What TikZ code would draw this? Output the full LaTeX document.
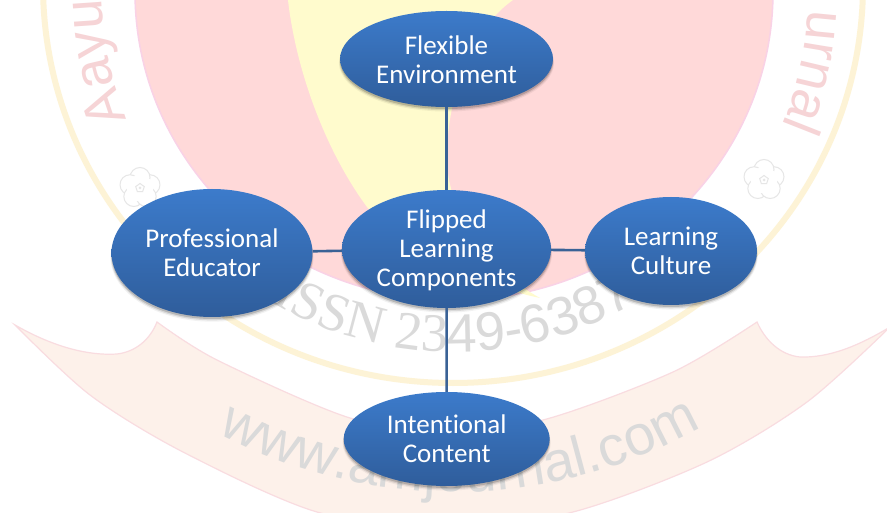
\documentclass[tikz,border=0pt]{standalone}
\usepackage{fontspec}
\setmainfont[Ligatures=NoCommon]{Carlito}
\newfontfamily\wmsans{Liberation Sans}
\newfontfamily\wmserif{Liberation Serif}
\usetikzlibrary{shapes.geometric,shadows,decorations.text}
\definecolor{pinkfill}{HTML}{FFD9D9}
\definecolor{lilacedge}{HTML}{F9D2E6}
\definecolor{creamfill}{HTML}{FFFBCD}
\definecolor{ringcol}{HTML}{FDF3D6}
\definecolor{ribbonfill}{HTML}{FDF1EA}
\definecolor{ribbonedge}{HTML}{F9DCE0}
\definecolor{wmpink}{HTML}{F6D4D6}
\definecolor{wmgrey}{HTML}{DADADA}
\definecolor{flowergrey}{HTML}{E6E6E6}
\definecolor{balltop}{HTML}{3C7BCB}
\definecolor{ballbottom}{HTML}{2F5D9B}
\definecolor{linkcol}{HTML}{3A6296}
\tikzset{
  ball/.style={ellipse,inner sep=-8pt,text=white,align=center,
    top color=balltop,bottom color=ballbottom,
    font=\fontsize{27}{29}\selectfont,
    general shadow={fill=black,opacity=.05,shadow yshift=-4pt,shadow scale=1.01},
    general shadow={fill=black,opacity=.10,shadow yshift=-3pt,shadow scale=1.005},
    general shadow={fill=black,opacity=.16,shadow yshift=-2pt,shadow scale=1.0}},
  link/.style={draw=linkcol,line width=2.6pt},
  petal/.style={fill=white,draw=flowergrey,line width=1pt},
}
\newcommand{\rosette}[2]{%
  \begin{scope}[shift={(#1,#2)}]
    \foreach \a in {18,90,162,234,306}{\path[petal] (\a:10.5) circle[radius=10];}
    \foreach \a in {18,90,162,234,306}{\fill[white] (\a:7) circle[radius=7.5];}
    \draw[flowergrey,line width=1pt] (18:4.5)--(90:4.5)--(162:4.5)--(234:4.5)--(306:4.5)--cycle;
    \fill[flowergrey] (0,0) circle[radius=1.5];
  \end{scope}}
\begin{document}
\begin{tikzpicture}[x=1pt,y=1pt]
\useasboundingbox (0,0) rectangle (887,-513);
\clip (0,0) rectangle (887,-513);
\fill[white] (0,0) rectangle (887,-513);
% seal
\draw[ringcol,line width=6pt] (453,15) ellipse[x radius=410,y radius=398];
\filldraw[fill=pinkfill,draw=lilacedge,line width=1.5pt] (454,8) ellipse[x radius=319,y radius=308];
\fill[creamfill] (288,10) -- (288,0) .. controls (296,-70) and (325,-150) .. (367,-207)
  .. controls (410,-255) and (480,-285) .. (540,-298)
  .. controls (490,-270) and (455,-230) .. (447,-167)
  .. controls (445,-100) and (470,-30) .. (513,0) -- (513,10) -- cycle;
% lettering of the seal
\path[decorate,decoration={text along path,text align=left,
   text={|\wmsans\fontsize{54}{54}\selectfont\color{wmpink}|Aayu}},shift={(454,10)}]
   (201.5:352) arc[start angle=201.5,end angle=165,radius=352];
\path[decorate,decoration={text along path,text align=right,
   text={|\wmsans\fontsize{54}{54}\selectfont\color{wmpink}|urnal}},shift={(454,10)}]
   (20:355) arc[start angle=20,end angle=-22.5,radius=355];
\rosette{140}{-188}
\rosette{764}{-180}
% ribbon
\filldraw[fill=ribbonfill,draw=ribbonedge,line width=1.2pt]
  (15,-325) .. controls (50,-345) and (85,-356) .. (117,-354)
  .. controls (135,-352) and (150,-340) .. (157,-322)
  -- plot[smooth] coordinates {(157,-322) (217,-360) (350,-418) (447,-430) (543,-420) (673,-372) (757,-322)}
  .. controls (765,-340) and (780,-355) .. (800,-357)
  .. controls (830,-358) and (860,-345) .. (890,-327)
  -- plot[smooth] coordinates {(890,-327) (807,-402) (707,-462) (573,-512) (447,-529) (317,-512) (183,-452) (90,-395) (15,-325)}
  -- cycle;
\path[decorate,decoration={text along path,text align=center,
   text={|\wmserif\fontsize{54}{54}\selectfont\color{wmgrey}|ISSN 23|\wmsans\fontsize{54}{54}\selectfont\color{wmgrey}|49-6387}},shift={(454,10)}]
   (234:362) arc[start angle=234,end angle=306,radius=362];
\path[decorate,decoration={text along path,text align=center,
   text={|\wmsans\fontsize{56}{56}\selectfont\color{wmgrey}|www.amjournal.com}},shift={(454,10)}]
   (239:502) arc[start angle=239,end angle=302.5,radius=502];
% diagram
\node[ball,minimum width=213pt,minimum height=96pt] (flex) at (446.5,-59) {\rule{0pt}{20pt}Flexible\\Environment};
\node[ball,minimum width=209pt,minimum height=118pt] (core) at (446.5,-249) {\rule{0pt}{22pt}Flipped\\Learning\\Components};
\node[ball,minimum width=201pt,minimum height=128pt] (prof) at (212,-253) {Professional\\Educator};
\node[ball,minimum width=172pt,minimum height=108pt] (cult) at (671,-251) {Learning\\Culture};
\node[ball,minimum width=206pt,minimum height=94pt] (cont) at (446.7,-439) {Intentional\\Content};
\draw[link] (flex) -- (core);
\draw[link] (core) -- (cont);
\draw[link] (core) -- (prof);
\draw[link] (core) -- (cult);
\end{tikzpicture}
\end{document}
